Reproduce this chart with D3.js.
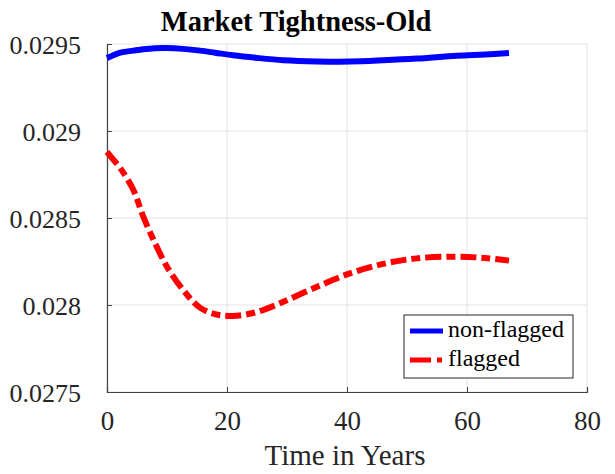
<!DOCTYPE html>
<html lang="en">
<head>
    <meta charset="UTF-8">
    <title>Market Tightness-Old</title>
    <script src="https://d3js.org/d3.v7.min.js"></script>
    <style>
        body {
            margin: 0;
            background: #fff;
            font-family: "Liberation Serif", "Times New Roman", serif;
        }
        svg {
            display: block;
        }
    </style>
</head>
<body>
    <div id="container"></div>
    <script>
        // data
        const time = [0, 0.7, 2.2, 4.4, 6, 8, 10, 12.7, 15.5, 18, 21, 25, 29.4, 35, 40.5, 46, 51.6, 58.3, 63, 67];
        const nonFlagged = [0.02942, 0.02943, 0.02945, 0.029462, 0.02947, 0.029476, 0.029477, 0.029472, 0.029462, 0.02945,
            0.029435, 0.02942, 0.029407, 0.0294, 0.029399, 0.029406, 0.029416, 0.029433, 0.02944, 0.029448];
        const flagged = [0.02888, 0.02885, 0.028787, 0.028661, 0.028512, 0.028356, 0.02822, 0.028086, 0.027985, 0.027948,
            0.027937, 0.02796, 0.028019, 0.028105, 0.028182, 0.028236, 0.028268, 0.028278, 0.02827, 0.028255];
        const xTicks = [0, 20, 40, 60, 80];
        const yTicks = [0.0275, 0.028, 0.0285, 0.029, 0.0295];
        const seriesNames = ['non-flagged', 'flagged'];

        const width = 615, height = 474;
        const plotLeft = 107, plotRight = 587, plotTop = 44, plotBottom = 392;
        const serif = '"Liberation Serif", "Times New Roman", serif';

        const svg = d3.select('#container').append('svg')
            .attr('width', width)
            .attr('height', height)
            .attr('font-family', serif);

        const x = d3.scaleLinear().domain([0, 80]).range([plotLeft, plotRight]);
        const y = d3.scaleLinear().domain([0.0275, 0.0295]).range([plotBottom, plotTop]);

        // grid
        svg.selectAll('.xgrid')
            .data(xTicks)
            .enter()
            .append('line')
            .attr('x1', d => x(d)).attr('x2', d => x(d))
            .attr('y1', plotTop).attr('y2', plotBottom)
            .attr('stroke', '#e3e3e3')
            .attr('stroke-width', 1);

        svg.selectAll('.ygrid')
            .data(yTicks)
            .enter()
            .append('line')
            .attr('x1', plotLeft).attr('x2', plotRight)
            .attr('y1', d => y(d)).attr('y2', d => y(d))
            .attr('stroke', '#e3e3e3')
            .attr('stroke-width', 1);

        // axes (ticks pointing in)
        const xAxis = svg.append('g')
            .attr('transform', `translate(0,${plotBottom})`)
            .call(d3.axisBottom(x).tickValues(xTicks).tickSize(-5).tickFormat(d3.format('d')));
        const yAxis = svg.append('g')
            .attr('transform', `translate(${plotLeft},0)`)
            .call(d3.axisLeft(y).tickValues(yTicks).tickSize(-5).tickFormat(d => String(+d.toFixed(4))));

        [xAxis, yAxis].forEach(g => {
            g.attr('font-family', serif);
            g.select('.domain').attr('stroke', '#444').attr('stroke-width', 1.2);
            g.selectAll('.tick line').attr('stroke', '#444');
            g.selectAll('text')
                .attr('fill', '#262626')
                .attr('font-family', serif);
        });
        yAxis.selectAll('text').attr('font-size', 26).attr('dy', '0.36em').attr('x', -26);
        xAxis.selectAll('text').attr('font-size', 27).attr('dy', '0.71em').attr('y', 19);

        // lines
        const line = d3.line()
            .x((d, i) => x(time[i]))
            .y(d => y(d))
            .curve(d3.curveCatmullRom.alpha(0.5));

        svg.append('path')
            .datum(nonFlagged)
            .attr('d', line)
            .attr('fill', 'none')
            .attr('stroke', '#0000ff')
            .attr('stroke-width', 6);

        svg.append('path')
            .datum(flagged)
            .attr('d', line)
            .attr('fill', 'none')
            .attr('stroke', '#ff0000')
            .attr('stroke-width', 6)
            .attr('stroke-dasharray', '16,5,9,5');

        // title and label
        svg.append('text')
            .attr('x', 296)
            .attr('y', 31)
            .attr('text-anchor', 'middle')
            .attr('font-weight', 'bold')
            .attr('font-size', 28.5)
            .attr('fill', '#000')
            .text('Market Tightness-Old');

        svg.append('text')
            .attr('x', 345)
            .attr('y', 465)
            .attr('text-anchor', 'middle')
            .attr('font-size', 29)
            .attr('fill', '#262626')
            .text('Time in Years');

        // legend
        const legend = svg.append('g');
        legend.append('rect')
            .attr('x', 404).attr('y', 315)
            .attr('width', 169).attr('height', 63)
            .attr('fill', '#fff')
            .attr('stroke', '#262626')
            .attr('stroke-width', 1);

        const colors = ['#0000ff', '#ff0000'];
        const dashes = [null, '21,6,5,6'];
        seriesNames.forEach((name, i) => {
            const ly = 331 + i * 29;
            legend.append('line')
                .attr('x1', 410).attr('x2', 443)
                .attr('y1', ly).attr('y2', ly)
                .attr('stroke', colors[i])
                .attr('stroke-width', 5)
                .attr('stroke-dasharray', dashes[i]);
            legend.append('text')
                .attr('x', 448)
                .attr('y', ly + 6)
                .attr('font-size', 24)
                .attr('fill', '#000')
                .text(name);
        });
    </script>
</body>
</html>
